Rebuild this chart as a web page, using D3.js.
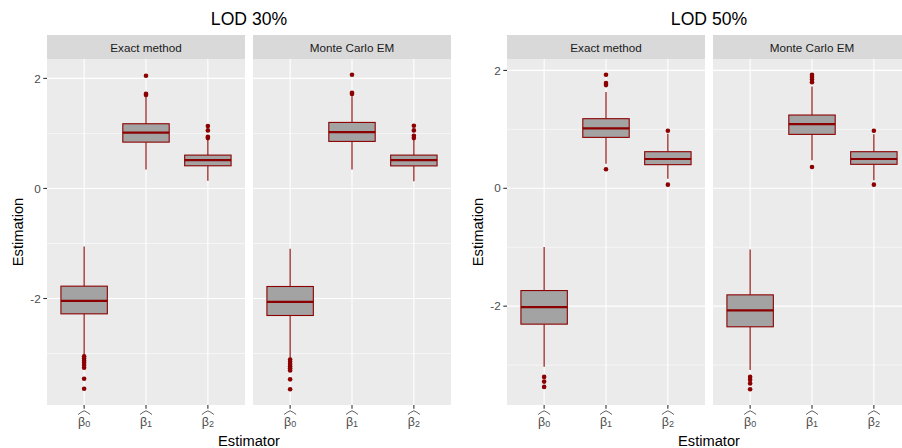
<!DOCTYPE html>
<html>
<head>
<meta charset="utf-8">
<script src="https://cdn.jsdelivr.net/npm/d3@7"></script>
<style>
  html, body { margin: 0; padding: 0; background: #ffffff; }
  svg { display: block; font-family: "Liberation Sans", Arial, Helvetica, sans-serif; }
</style>
</head>
<body>
<svg id="chart" width="902" height="448"></svg>
<script>
// Estimators on the x axis (drawn as widehat beta with subscripts)
const estimators = ["b0", "b1", "b2"];
const estimatorSubs = ["0", "1", "2"];
const methods = ["Exact method", "Monte Carlo EM"];
const plotTitles = ["LOD 30%", "LOD 50%"];
const yTicks = [-2, 0, 2];
const yMinor = [-3, -1, 1];

// Box statistics per estimator: [lower whisker, Q1, median, Q3, upper whisker]
const lod30ExactBox = [[-3.036, -2.279, -2.042, -1.776, -1.055], [0.345, 0.842, 1.013, 1.176, 1.66], [0.14, 0.412, 0.515, 0.606, 0.885]];
const lod30ExactOut = [[-3.05, -3.09, -3.13, -3.17, -3.21, -3.26, -3.46, -3.64], [1.70, 1.72, 2.049], [0.915, 0.94, 1.055, 1.133]];
const lod30McemBox = [[-3.097, -2.309, -2.06, -1.782, -1.097], [0.345, 0.855, 1.024, 1.2, 1.673], [0.133, 0.41, 0.515, 0.606, 0.885]];
const lod30McemOut = [[-3.11, -3.15, -3.19, -3.23, -3.27, -3.31, -3.47, -3.65], [1.715, 1.74, 2.067], [0.915, 0.958, 1.055, 1.14]];

const lod50ExactBox = [[-3.028, -2.305, -2.017, -1.735, -0.994], [0.418, 0.864, 1.017, 1.181, 1.632], [0.164, 0.401, 0.497, 0.621, 0.927]];
const lod50ExactOut = [[-3.2, -3.28, -3.37], [0.322, 1.751, 1.785, 1.927], [0.062, 0.977]];
const lod50McemBox = [[-3.085, -2.35, -2.073, -1.808, -1.04], [0.475, 0.915, 1.09, 1.243, 1.729], [0.136, 0.407, 0.497, 0.621, 0.915]];
const lod50McemOut = [[-3.2, -3.25, -3.31, -3.41], [0.361, 1.80, 1.847, 1.887, 1.927], [0.062, 0.977]];

const plots = [
  { title: plotTitles[0], panels: [[lod30ExactBox, lod30ExactOut], [lod30McemBox, lod30McemOut]] },
  { title: plotTitles[1], panels: [[lod50ExactBox, lod50ExactOut], [lod50McemBox, lod50McemOut]] }
];

const svg = d3.select("#chart");
const plotWidth = 460;
const panelTop = 59, panelBottom = 405, stripTop = 35;
const panelW = 198, panelGap = 8, panelLeft = 47;
const boxColor = "#8B0000", boxFill = "#A3A3A3", textGrey = "#4D4D4D";

plots.forEach((plot, pi) => {
  const g = svg.append("g").attr("transform", `translate(${pi * plotWidth},0)`);

  // y range from all values, expanded by 5% on each side
  const all = [];
  plot.panels.forEach(([box, out]) => { box.forEach(b => all.push(...b)); out.forEach(o => all.push(...o)); });
  const [lo, hi] = d3.extent(all);
  const pad = (hi - lo) * 0.05;
  const y = d3.scaleLinear().domain([lo - pad, hi + pad]).range([panelBottom, panelTop]);

  plot.panels.forEach(([box, out], k) => {
    const x0 = panelLeft + k * (panelW + panelGap);
    const x = d3.scalePoint().domain(estimators).range([x0, x0 + panelW]).padding(0.6);
    const bw = x.step() * 0.75;
    const pg = g.append("g");

    // strip
    pg.append("rect").attr("x", x0).attr("y", stripTop).attr("width", panelW).attr("height", panelTop - stripTop).attr("fill", "#D9D9D9");
    pg.append("text").attr("x", x0 + panelW / 2).attr("y", 51.5).attr("text-anchor", "middle")
      .attr("font-size", 11.7).attr("fill", "#1A1A1A").text(methods[k]);

    // panel background and grid
    pg.append("rect").attr("x", x0).attr("y", panelTop).attr("width", panelW).attr("height", panelBottom - panelTop).attr("fill", "#EBEBEB");
    pg.selectAll(".minor").data(yMinor).join("line")
      .attr("x1", x0).attr("x2", x0 + panelW).attr("y1", d => y(d)).attr("y2", d => y(d))
      .attr("stroke", "#fff").attr("stroke-width", 0.55);
    pg.selectAll(".major").data(yTicks).join("line")
      .attr("x1", x0).attr("x2", x0 + panelW).attr("y1", d => y(d)).attr("y2", d => y(d))
      .attr("stroke", "#fff").attr("stroke-width", 1.1);
    pg.selectAll(".vmajor").data(estimators).join("line")
      .attr("x1", d => x(d)).attr("x2", d => x(d)).attr("y1", panelTop).attr("y2", panelBottom)
      .attr("stroke", "#fff").attr("stroke-width", 1.1);

    // boxplots
    estimators.forEach((e, i) => {
      const [wl, q1, med, q3, wu] = box[i];
      const cx = x(e);
      const bg = pg.append("g");
      bg.append("line").attr("x1", cx).attr("x2", cx).attr("y1", y(q3)).attr("y2", y(wu)).attr("stroke", boxColor).attr("stroke-width", 1.1);
      bg.append("line").attr("x1", cx).attr("x2", cx).attr("y1", y(q1)).attr("y2", y(wl)).attr("stroke", boxColor).attr("stroke-width", 1.1);
      bg.append("rect").attr("x", cx - bw / 2).attr("y", y(q3)).attr("width", bw).attr("height", y(q1) - y(q3))
        .attr("fill", boxFill).attr("stroke", boxColor).attr("stroke-width", 1.1);
      bg.append("line").attr("x1", cx - bw / 2).attr("x2", cx + bw / 2).attr("y1", y(med)).attr("y2", y(med))
        .attr("stroke", boxColor).attr("stroke-width", 2.2);
      bg.selectAll("circle").data(out[i]).join("circle")
        .attr("cx", cx).attr("cy", d => y(d)).attr("r", 2.3).attr("fill", boxColor);
    });

    // x axis ticks and widehat beta labels
    estimators.forEach((e, i) => {
      const cx = x(e);
      pg.append("line").attr("x1", cx).attr("x2", cx).attr("y1", panelBottom).attr("y2", panelBottom + 3.7)
        .attr("stroke", "#333333").attr("stroke-width", 1.1);
      pg.append("path")
        .attr("d", `M${cx - 6},${414.5} Q${cx - 3},${412} ${cx},${410.8} Q${cx + 3},${412} ${cx + 6},${414.5}`)
        .attr("fill", "none").attr("stroke", textGrey).attr("stroke-width", 0.9);
      const t = pg.append("text").attr("x", cx).attr("y", 425.5).attr("text-anchor", "middle")
        .attr("fill", textGrey).attr("font-size", 12.5);
      t.append("tspan").text("β");
      t.append("tspan").attr("font-size", 9).attr("dy", 1.5).text(estimatorSubs[i]);
    });

    // y axis on the first panel only
    if (k === 0) {
      const ya = pg.append("g");
      ya.selectAll("line").data(yTicks).join("line")
        .attr("x1", x0 - 3.7).attr("x2", x0).attr("y1", d => y(d)).attr("y2", d => y(d))
        .attr("stroke", "#333333").attr("stroke-width", 1.1);
      ya.selectAll("text").data(yTicks).join("text")
        .attr("x", x0 - 6.3).attr("y", d => y(d) + 4.1).attr("text-anchor", "end")
        .attr("font-size", 11.7).attr("fill", textGrey).text(d => d);
    }
  });

  const midX = panelLeft + (2 * panelW + panelGap) / 2;
  g.append("text").attr("x", midX).attr("y", 24.5).attr("text-anchor", "middle")
    .attr("font-size", 17.6).attr("fill", "#000").text(plot.title);
  g.append("text").attr("x", midX).attr("y", 445.5).attr("text-anchor", "middle")
    .attr("font-size", 14.67).attr("fill", "#000").text("Estimator");
  g.append("text").attr("transform", `translate(22.5,${(panelTop + panelBottom) / 2}) rotate(-90)`)
    .attr("text-anchor", "middle").attr("font-size", 14.67).attr("fill", "#000").text("Estimation");
});
</script>
</body>
</html>
